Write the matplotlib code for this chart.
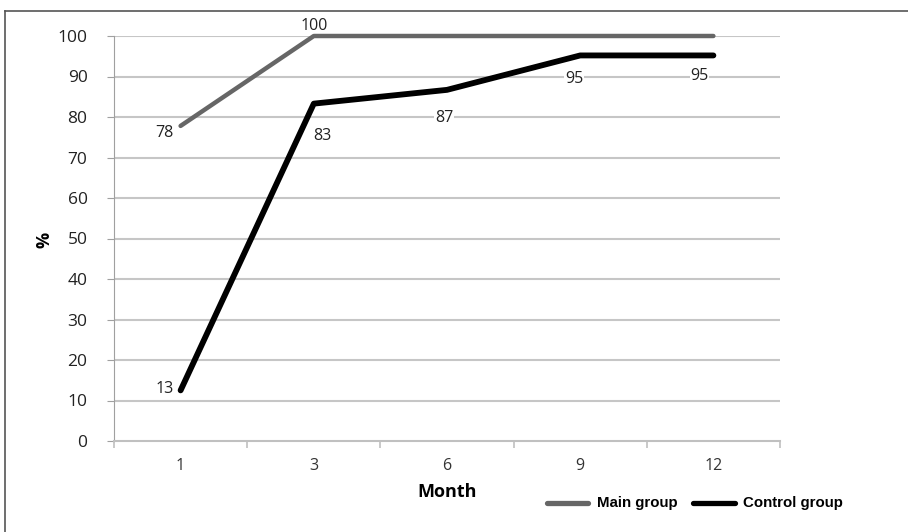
import matplotlib
matplotlib.use("Agg")
import matplotlib.pyplot as plt
from matplotlib.lines import Line2D

months = ["1", "3", "6", "9", "12"]
main_group = [77.8, 100, 100, 100, 100]
control_group = [12.5, 83.3, 86.7, 95.2, 95.2]
y_ticks = [0, 10, 20, 30, 40, 50, 60, 70, 80, 90, 100]

W, H = 908, 532
fig = plt.figure(figsize=(W / 100, H / 100), dpi=100)

# outer border (top and left visible)
fig.add_artist(Line2D([5 / W, 5 / W], [0, 1 - 11 / H], transform=fig.transFigure, color="#555555", lw=1.2))
fig.add_artist(Line2D([5 / W, 1], [1 - 11 / H, 1 - 11 / H], transform=fig.transFigure, color="#555555", lw=1.2))

left, right, top, bottom = 114, 780, 36, 441
ax = fig.add_axes([left / W, 1 - bottom / H, (right - left) / W, (bottom - top) / H])

x = list(range(len(months)))
ax.plot(x, main_group, color="#666666", lw=3.2, solid_capstyle="round", zorder=3, clip_on=False)
ax.plot(x, control_group, color="black", lw=4.2, solid_capstyle="round", zorder=4, clip_on=False)

ax.set_xlim(-0.5, len(months) - 0.5)
ax.set_ylim(0, 100)
ax.set_yticks(y_ticks)
ax.set_xticks(x)
ax.set_xticklabels(months)
ax.set_xticks([i - 0.5 for i in range(len(months) + 1)], minor=True)

for yv in y_ticks[1:]:
    ax.axhline(yv, color="#c6c6c6", lw=1.5, zorder=1)

for s in ["top", "right"]:
    ax.spines[s].set_visible(False)
ax.spines["left"].set_color("#a0a0a0")
ax.spines["bottom"].set_color("#c0c0c0")
ax.spines["bottom"].set_linewidth(1.5)

fnt = "Open Sans"
ax.tick_params(axis="y", length=5, color="#a0a0a0", labelsize=12.5, labelcolor="#222222", pad=14)
ax.tick_params(axis="x", which="major", length=0, labelsize=11.5, labelcolor="#333333", pad=12)
ax.tick_params(axis="x", which="minor", length=5, color="#c0c0c0", width=1.2)
for lab in ax.get_yticklabels() + ax.get_xticklabels():
    lab.set_family(fnt)

def lbl(v):
    return str(int(v + 0.5))

bbox = dict(facecolor="white", edgecolor="none", pad=0.5)
# data labels (offsets in points)
main_offsets = [(-12, -5), (0, 7.5), None, None, None]
ctrl_offsets = [(-11.5, 0.7), (6.5, -23), (-2, -20), (-4.3, -17), (-10, -15)]
for i, v in enumerate(main_group):
    if main_offsets[i] is not None:
        ax.annotate(lbl(v), (x[i], v), xytext=main_offsets[i], textcoords="offset points",
                    ha="center", va="center", fontsize=11.5, family=fnt, color="#222222",
                    zorder=5, annotation_clip=False,
                    bbox=bbox if main_offsets[i][1] < 0 else None)
for i, v in enumerate(control_group):
    ax.annotate(lbl(v), (x[i], v), xytext=ctrl_offsets[i], textcoords="offset points",
                ha="center", va="center", fontsize=11.5, family=fnt, color="#222222",
                bbox=bbox, zorder=5, annotation_clip=False)

fig.text(447 / W, 1 - 492 / H, "Month", ha="center", va="center", fontsize=13,
         fontweight="bold", family=fnt)
fig.text(45 / W, 1 - 240 / H, "%", ha="center", va="center", fontsize=13,
         fontweight="bold", family=fnt, rotation=90)

# legend
ly = 1 - 503 / H
fig.add_artist(Line2D([547 / W, 588 / W], [ly, ly], transform=fig.transFigure, color="#666666",
                      lw=3.8, solid_capstyle="round"))
fig.text(597 / W, ly, "Main group", ha="left", va="center", fontsize=10.8, fontweight="bold",
         family="Liberation Sans")
fig.add_artist(Line2D([693 / W, 735 / W], [ly, ly], transform=fig.transFigure, color="black",
                      lw=3.8, solid_capstyle="round"))
fig.text(743 / W, ly, "Control group", ha="left", va="center", fontsize=10.8, fontweight="bold",
         family="Liberation Sans")

fig.savefig("out.png", dpi=100)
